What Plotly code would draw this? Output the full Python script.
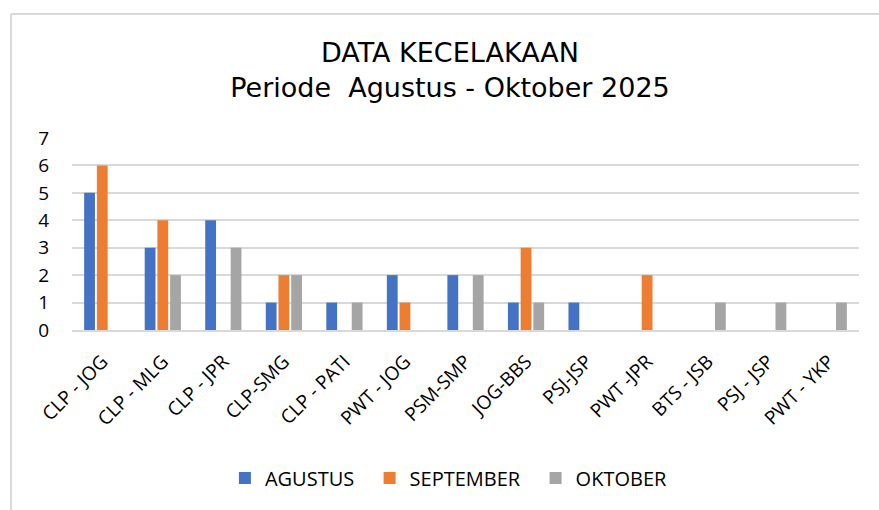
import plotly.graph_objects as go

categories = ["CLP - JOG", "CLP - MLG", "CLP - JPR", "CLP-SMG", "CLP - PATI", "PWT - JOG",
              "PSM-SMP", "JOG-BBS", "PSJ-JSP", "PWT -JPR", "BTS - JSB", "PSJ - JSP", "PWT - YKP"]
agustus = [5, 3, 4, 1, 1, 2, 2, 1, 1, 0, 0, 0, 0]
september = [6, 4, 0, 2, 0, 1, 0, 3, 0, 2, 0, 0, 0]
oktober = [0, 2, 3, 2, 1, 0, 2, 1, 0, 0, 1, 1, 1]
series_names = ["AGUSTUS", "SEPTEMBER", "OKTOBER"]

W, H = 879, 510
L, R, T, B = 72, 20, 138, 180
pw, ph = W - L - R, H - T - B

def px(x):
    return (x - L) / pw

def py(y):
    return (H - B - y) / ph

title_font = "DejaVu Sans"
body_font = "Open Sans"
fig = go.Figure()
for name, vals, col in zip(series_names, [agustus, september, oktober],
                           ["#4472c4", "#ed7d31", "#a5a5a5"]):
    fig.add_trace(go.Bar(name=name + "&nbsp;&nbsp;", x=categories, y=vals,
                         marker=dict(color=col, line=dict(width=0))))

fig.update_layout(
    width=W, height=H,
    margin=dict(l=L, r=R, t=T, b=B),
    paper_bgcolor="white", plot_bgcolor="white",
    barmode="group", bargap=0.37, bargroupgap=0.15,
    title=dict(text="DATA KECELAKAAN<br>Periode&nbsp;&nbsp;Agustus - Oktober 2025",
               x=450 / W, xanchor="center", y=1 - 62 / H, yanchor="middle",
               font=dict(family=title_font, size=27, color="#000000")),
    font=dict(family=body_font, color="#000000"),
    xaxis=dict(tickangle=-45, tickfont=dict(family=body_font, size=19, color="#000"),
               showgrid=False, showline=True, linecolor="#d9d9d9", linewidth=2, ticks="",
               ticklabelstandoff=11),
    yaxis=dict(range=[0, 7], dtick=1, tickfont=dict(family=body_font, size=19, color="#000"),
               showgrid=True, gridcolor="#d9d9d9", gridwidth=2, zeroline=False,
               ticklabelstandoff=22, showline=False),
    legend=dict(orientation="h", x=426 / W, xanchor="center", y=py(478), yanchor="middle",
                font=dict(family=body_font, size=20, color="#000"),
                itemwidth=30, traceorder="normal"),
    shapes=[dict(type="line", xref="paper", yref="paper", x0=px(11), x1=px(11), y0=py(515), y1=py(14),
                 line=dict(color="#d9d9d9", width=2)),
            dict(type="line", xref="paper", yref="paper", x0=px(11), x1=px(885), y0=py(14), y1=py(14),
                 line=dict(color="#d9d9d9", width=2))],
)
fig.write_html("out.html", config={"displayModeBar": False},
               post_script="document.body.style.margin='0';document.body.style.overflow='hidden';")
